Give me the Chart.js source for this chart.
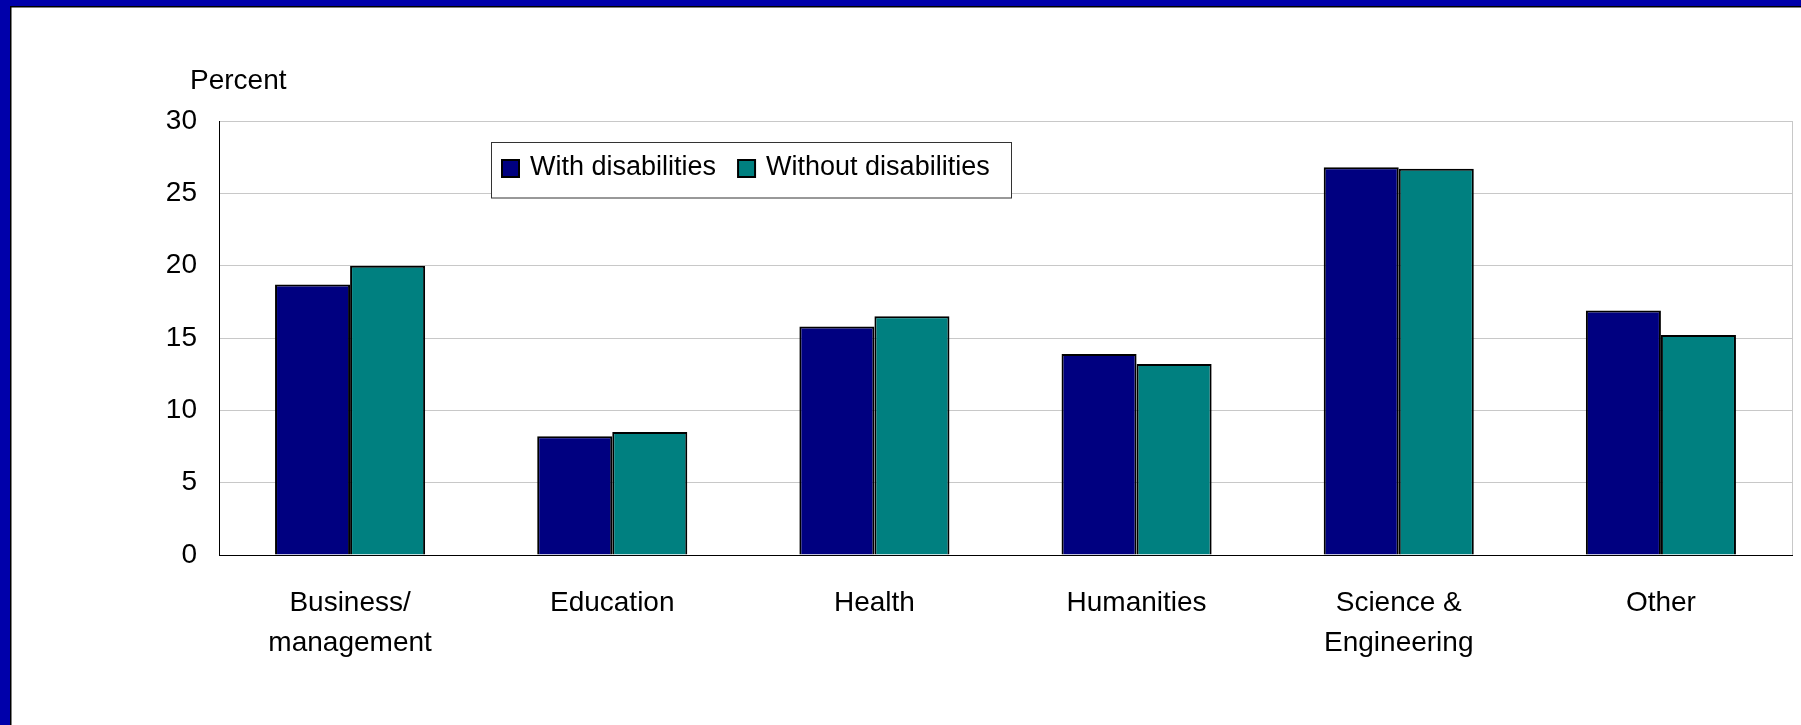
<!DOCTYPE html>
<html>
<head>
<meta charset="utf-8">
<script src="https://cdn.jsdelivr.net/npm/chart.js@4/dist/chart.umd.min.js"></script>
<style>
  html, body { margin: 0; padding: 0; background: #ffffff; overflow: hidden; }
  #c { display: block; }
</style>
</head>
<body>
<canvas id="c" width="1801" height="725"></canvas>
<script>
const categories = [["Business/", "management"], "Education", "Health", "Humanities", ["Science &", "Engineering"], "Other"];
const withDisabilities = [18.7, 8.2, 15.8, 13.9, 26.8, 16.9];
const withoutDisabilities = [20.0, 8.5, 16.5, 13.2, 26.7, 15.2];
const seriesLabels = ["With disabilities", "Without disabilities"];
const seriesColors = ["#000080", "#008080"];
const yAxisLabel = "Percent";
const yMin = 0, yMax = 30, yStep = 5;

const FONT = "'Liberation Sans', Arial, sans-serif";

const framePlugin = {
  id: 'frame',
  beforeDraw(chart) {
    const ctx = chart.ctx, w = chart.width, h = chart.height;
    ctx.save();
    ctx.fillStyle = '#ffffff';
    ctx.fillRect(0, 0, w, h);
    ctx.fillStyle = '#0000AA';
    ctx.fillRect(0, 0, w, 6);
    ctx.fillRect(0, 0, 10, h);
    ctx.fillStyle = '#000000';
    ctx.fillRect(10, 6, 1.5, h - 6);
    ctx.fillRect(10, 6, w - 10, 1.5);
    ctx.restore();
  },
  beforeDatasetsDraw(chart) {
    const {ctx, chartArea} = chart;
    ctx.save();
    ctx.strokeStyle = '#c8c8c8';
    ctx.lineWidth = 1;
    ctx.beginPath();
    ctx.moveTo(Math.round(chartArea.right) + 0.5, chartArea.top);
    ctx.lineTo(Math.round(chartArea.right) + 0.5, chartArea.bottom);
    ctx.stroke();
    ctx.restore();
  },
  afterDraw(chart) {
    const ctx = chart.ctx;
    ctx.save();
    ctx.fillStyle = '#000';
    ctx.font = "28px " + FONT;
    ctx.textAlign = 'left';
    ctx.textBaseline = 'alphabetic';
    ctx.fillText(yAxisLabel, 190, 89);
    const bx = 491.5, by = 142.5, bw = 520, bh = 55.5;
    ctx.fillStyle = '#ffffff';
    ctx.fillRect(bx, by, bw, bh);
    ctx.strokeStyle = '#333333';
    ctx.lineWidth = 1;
    ctx.strokeRect(bx, by, bw, bh);
    ctx.font = "27px " + FONT;
    let x = 502;
    chart.data.datasets.forEach((ds) => {
      ctx.fillStyle = ds.backgroundColor;
      ctx.fillRect(x, 160, 17, 17);
      ctx.strokeStyle = '#000';
      ctx.lineWidth = 2;
      ctx.strokeRect(x, 160, 17, 17);
      ctx.fillStyle = '#000';
      ctx.fillText(ds.label, x + 28, 175);
      x += 28 + ctx.measureText(ds.label).width + 22;
    });
    ctx.restore();
  }
};

new Chart(document.getElementById('c'), {
  type: 'bar',
  data: {
    labels: categories,
    datasets: [
      { label: seriesLabels[0], data: withDisabilities, backgroundColor: seriesColors[0], borderColor: '#000', borderWidth: 2 },
      { label: seriesLabels[1], data: withoutDisabilities, backgroundColor: seriesColors[1], borderColor: '#000', borderWidth: 2 }
    ]
  },
  options: {
    responsive: false,
    animation: false,
    devicePixelRatio: 1,
    categoryPercentage: 0.5725,
    barPercentage: 1.0,
    layout: { padding: { left: 0, top: 121, right: 9, bottom: 0 } },
    plugins: { legend: { display: false }, tooltip: { enabled: false } },
    scales: {
      x: {
        grid: { display: false },
        border: { display: true, color: '#000', width: 1 },
        ticks: { color: '#000', font: { family: FONT, size: 28, lineHeight: 1.43 }, padding: 20, maxRotation: 0, autoSkip: false },
        afterFit(scale) { scale.height = 170; }
      },
      y: {
        min: yMin, max: yMax,
        grid: { color: (c) => c.tick && c.tick.value === 0 ? '#000' : '#c8c8c8', lineWidth: 1, drawTicks: false },
        border: { display: true, color: '#000', width: 1 },
        ticks: { stepSize: yStep, color: '#000', font: { family: FONT, size: 28 }, padding: 22 },
        afterFit(scale) { scale.width = 219; }
      }
    }
  },
  plugins: [framePlugin]
});
</script>
</body>
</html>
